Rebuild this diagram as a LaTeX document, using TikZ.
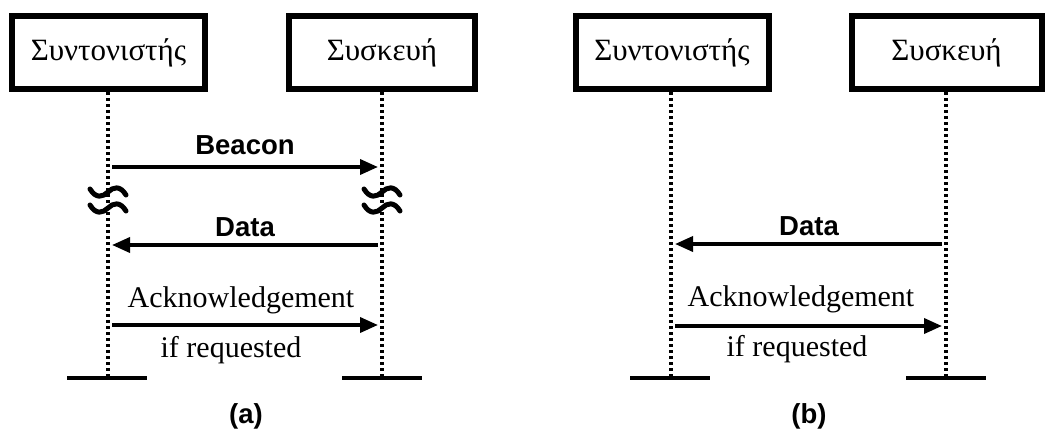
\documentclass[tikz,border=0pt]{standalone}
\usepackage{fontspec}
\setmainfont{Liberation Serif}
\setsansfont{Liberation Sans}
\usetikzlibrary{arrows.meta}

\tikzset{
  entity/.style={draw, line width=6pt, inner sep=0pt, minimum height=73pt,
    font=\fontsize{31}{36}\selectfont},
  lifeline/.style={line width=3.4pt, dash pattern=on 3pt off 3pt},
  endbar/.style={line width=4pt},
  msg/.style={line width=3.6pt, -{Triangle[length=18pt,width=15pt]}},
  boldlabel/.style={font=\sffamily\bfseries\fontsize{27.5}{32}\selectfont},
  seriflabel/.style={font=\fontsize{30}{35}\selectfont},
  squiggle/.style={line width=5pt, line cap=round}
}

% a small break mark (tilde) centred on a lifeline
\newcommand{\breakmark}[1]{%
  \draw[squiggle] ([shift={(-18pt,3pt)}]#1)
    .. controls ([shift={(-12pt,-7pt)}]#1) and ([shift={(-5pt,-5pt)}]#1) .. (#1)
    .. controls ([shift={(5pt,5pt)}]#1) and ([shift={(12pt,7pt)}]#1) .. ([shift={(18pt,-3pt)}]#1);}

\begin{document}
\begin{tikzpicture}[x=1pt,y=-1pt]
\useasboundingbox (0,0) rectangle (1046,444);

% ---------- panel (a) ----------
\node[entity, minimum width=193pt] (aC) at (108.5,52.5) {Συντονιστής};
\node[entity, minimum width=186pt] (aD) at (382,52.5) {Συσκευή};

\coordinate (aCend) at (108,378);
\coordinate (aDend) at (382,378);
\draw[lifeline] (aC.south -| aCend) -- (aCend);
\draw[lifeline] (aD.south -| aDend) -- (aDend);
\coordinate (aCbarL) at (67,378);  \coordinate (aCbarR) at (147,378);
\coordinate (aDbarL) at (342,378); \coordinate (aDbarR) at (422,378);
\draw[endbar] (aCbarL) -- (aCbarR);
\draw[endbar] (aDbarL) -- (aDbarR);

% beacon
\coordinate (aC1) at (112,167); \coordinate (aD1) at (378,167);
\draw[msg] (aC1) -- (aD1);
\node[boldlabel] (lbeacon) at (245,145) {Beacon};

% break marks
\coordinate (aCb1) at (108,192); \coordinate (aCb2) at (108,208);
\coordinate (aDb1) at (382,192); \coordinate (aDb2) at (382,208);
\breakmark{aCb1}\breakmark{aCb2}\breakmark{aDb1}\breakmark{aDb2}

% data
\coordinate (aC2) at (112,245); \coordinate (aD2) at (378,245);
\draw[msg] (aD2) -- (aC2);
\node[boldlabel] (ldataa) at (245,227) {Data};

% acknowledgement
\coordinate (aC3) at (112,325); \coordinate (aD3) at (378,325);
\draw[msg] (aC3) -- (aD3);
\node[seriflabel] (lacka) at (241,300) {Acknowledgement};
\node[seriflabel] (lreqa) at (231,350) {if requested};

\node[boldlabel] (capa) at (246,416) {(a)};

% ---------- panel (b) ----------
\node[entity, minimum width=193pt] (bC) at (672,52.5) {Συντονιστής};
\node[entity, minimum width=190pt] (bD) at (946.5,52.5) {Συσκευή};

\coordinate (bCend) at (671,378);
\coordinate (bDend) at (946,378);
\draw[lifeline] (bC.south -| bCend) -- (bCend);
\draw[lifeline] (bD.south -| bDend) -- (bDend);
\coordinate (bCbarL) at (630,378); \coordinate (bCbarR) at (710,378);
\coordinate (bDbarL) at (906,378); \coordinate (bDbarR) at (986,378);
\draw[endbar] (bCbarL) -- (bCbarR);
\draw[endbar] (bDbarL) -- (bDbarR);

% data
\coordinate (bC2) at (675,244); \coordinate (bD2) at (942,244);
\draw[msg] (bD2) -- (bC2);
\node[boldlabel] (ldatab) at (809,226) {Data};

% acknowledgement
\coordinate (bC3) at (675,326); \coordinate (bD3) at (942,326);
\draw[msg] (bC3) -- (bD3);
\node[seriflabel] (lackb) at (801,299) {Acknowledgement};
\node[seriflabel] (lreqb) at (797,349) {if requested};

\node[boldlabel] (capb) at (809,416) {(b)};
\end{tikzpicture}
\end{document}
